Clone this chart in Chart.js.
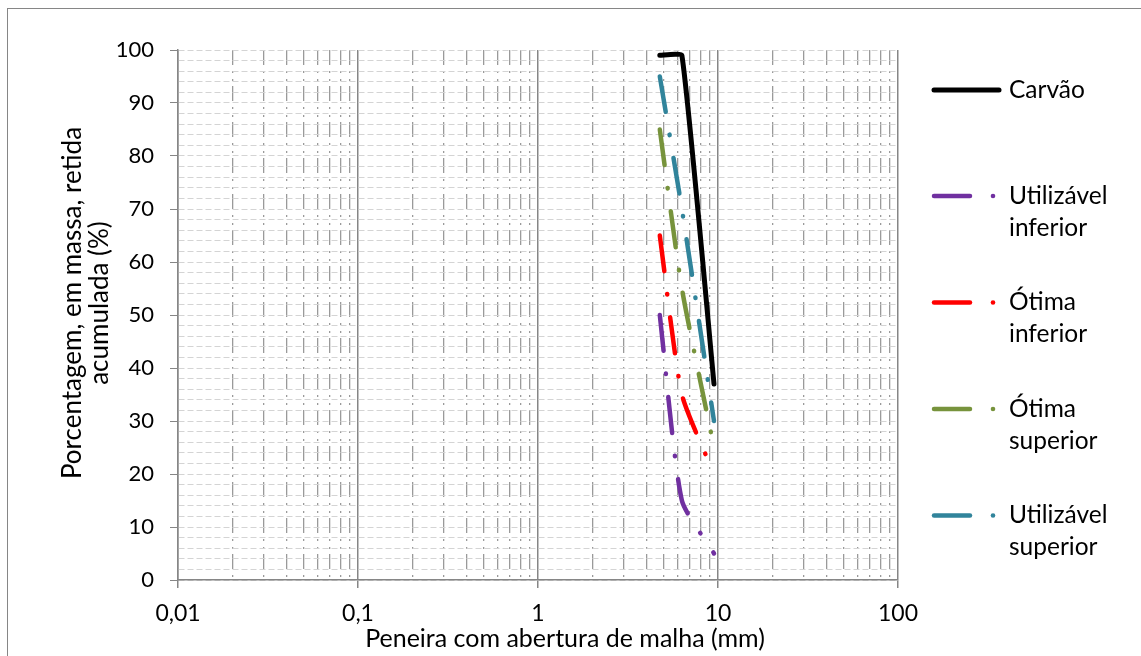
<!DOCTYPE html>
<html>
<head>
<meta charset="utf-8">
<script src="https://cdn.jsdelivr.net/npm/chart.js@4.4.1/dist/chart.umd.min.js"></script>
<style>
  html, body { margin: 0; padding: 0; background: #fff; }
  canvas { display: block; }
</style>
</head>
<body>
<canvas id="grafico" width="1141" height="656"></canvas>
<script>
// aberturas das peneiras (mm) e % retida acumulada
var peneiras = [4.75, 6.3, 9.5];
var carvao = [99, 99, 37];
var utilizavelInferior = [50, 15, 5];
var otimaInferior = [65, 35, 20];
var otimaSuperior = [85, 55, 25];
var utilizavelSuperior = [95, 70, 30];
var rotulosX = ['0,01', '0,1', '1', '10', '100'];
var rotulosY = [0, 10, 20, 30, 40, 50, 60, 70, 80, 90, 100];

var fonte = 'Lato, "Open Sans", sans-serif';
var cinzaEixo = '#868686';

function ehDecada(v) {
  var l = Math.log10(v);
  return Math.abs(l - Math.round(l)) < 1e-6;
}

function serie(nome, valores, cor, tracejada) {
  return {
    label: nome,
    data: peneiras.map(function (p, i) { return { x: p, y: valores[i] }; }),
    borderColor: cor,
    backgroundColor: cor,
    borderWidth: tracejada ? 4.5 : 5,
    borderDash: tracejada ? [36, 23, 0.5, 23] : [],
    borderCapStyle: 'round',
    borderJoinStyle: 'round',
    pointRadius: 0,
    tension: tracejada ? 0.2 : 0.12,
    fill: false
  };
}

// moldura, titulos dos eixos e legenda desenhados a mao
var extras = {
  id: 'extras',
  beforeDraw: function (chart) {
    var ctx = chart.ctx;
    ctx.save();
    ctx.fillStyle = '#fff';
    ctx.fillRect(0, 0, chart.width, chart.height);
    ctx.strokeStyle = cinzaEixo;
    ctx.lineWidth = 1;
    ctx.strokeRect(7.5, 8.5, 1200, 700);
    ctx.restore();
  },
  afterDraw: function (chart) {
    var ctx = chart.ctx;
    ctx.save();
    ctx.fillStyle = '#000';
    ctx.textAlign = 'center';
    ctx.textBaseline = 'middle';

    // titulo eixo x
    ctx.font = '25px ' + fonte;
    ctx.fillText('Peneira com abertura de malha (mm)', 565, 639);

    // titulo eixo y
    ctx.save();
    ctx.translate(86, 303);
    ctx.rotate(-Math.PI / 2);
    ctx.font = '26px ' + fonte;
    ctx.fillText('Porcentagem, em massa, retida', 0, -13);
    ctx.fillText('acumulada (%)', 0, 14);
    ctx.restore();

    // legenda
    ctx.textAlign = 'left';
    ctx.font = '24.5px ' + fonte;
    chart.data.datasets.forEach(function (ds, i) {
      var y = i === 0 ? 90 : 196 + (i - 1) * 106.5;
      ctx.strokeStyle = ds.borderColor;
      ctx.lineCap = 'round';
      ctx.lineWidth = ds.borderWidth;
      ctx.beginPath();
      if (i === 0) {
        ctx.moveTo(934, y);
        ctx.lineTo(999, y);
        ctx.stroke();
      } else {
        ctx.moveTo(934, y);
        ctx.lineTo(970, y);
        ctx.stroke();
        ctx.fillStyle = ds.borderColor;
        ctx.beginPath();
        ctx.arc(993, y, 2.3, 0, Math.PI * 2);
        ctx.fill();
      }
      ctx.fillStyle = '#000';
      var partes = ds.label.split(' ');
      partes.forEach(function (t, k) {
        ctx.fillText(t, 1009, y + k * 32);
      });
    });
    ctx.restore();
  }
};

var ticksX = [];
for (var e = -2; e <= 1; e++) {
  for (var m = 1; m <= 9; m++) ticksX.push(m * Math.pow(10, e));
}
ticksX.push(100);

new Chart(document.getElementById('grafico'), {
  type: 'line',
  data: {
    datasets: [
      serie('Carvão', carvao, '#000000', false),
      serie('Utilizável inferior', utilizavelInferior, '#7030A0', true),
      serie('Ótima inferior', otimaInferior, '#FF0000', true),
      serie('Ótima superior', otimaSuperior, '#77933C', true),
      serie('Utilizável superior', utilizavelSuperior, '#31849B', true)
    ]
  },
  options: {
    responsive: false,
    animation: false,
    layout: { padding: { left: 8, right: 243, top: 50, bottom: 0 } },
    plugins: {
      legend: { display: false },
      tooltip: { enabled: false }
    },
    scales: {
      x: {
        type: 'logarithmic',
        min: 0.01,
        max: 100,
        afterBuildTicks: function (s) {
          s.ticks = ticksX.map(function (v) { return { value: v }; });
        },
        afterFit: function (s) { s.height = 76; },
        ticks: {
          autoSkip: false,
          maxRotation: 0,
          padding: 12,
          color: '#000',
          font: { family: fonte, size: 23 },
          callback: function (v) {
            return ehDecada(v) ? rotulosX[Math.round(Math.log10(v)) + 2] : '';
          }
        },
        grid: {
          color: function (c) { return c.tick && ehDecada(c.tick.value) ? cinzaEixo : '#9a9a9a'; },
          lineWidth: function (c) { return c.tick && ehDecada(c.tick.value) ? 1.5 : 1.3; },
          tickLength: 8,
          tickColor: function (c) { return c.tick && ehDecada(c.tick.value) ? cinzaEixo : 'rgba(0,0,0,0)'; }
        },
        border: {
          color: cinzaEixo,
          width: 1.5,
          dash: function (c) { return c.tick && !ehDecada(c.tick.value) ? [15, 6, 2, 6, 2, 5] : []; }
        }
      },
      y: {
        min: 0,
        max: 100,
        afterFit: function (s) { s.width = 170; },
        ticks: {
          stepSize: 2,
          autoSkip: false,
          padding: 16,
          color: '#000',
          font: { family: fonte, size: 22 },
          callback: function (v) { return rotulosY.indexOf(v) >= 0 ? String(v) : ''; }
        },
        grid: {
          color: '#d4d4d4',
          lineWidth: 1,
          tickLength: 8,
          tickColor: function (c) { return c.tick && c.tick.value % 10 === 0 ? cinzaEixo : 'rgba(0,0,0,0)'; }
        },
        border: {
          color: cinzaEixo,
          width: 1.5,
          dash: function (c) { return c.tick ? [6, 3] : []; }
        }
      }
    }
  },
  plugins: [extras]
});
</script>
</body>
</html>
